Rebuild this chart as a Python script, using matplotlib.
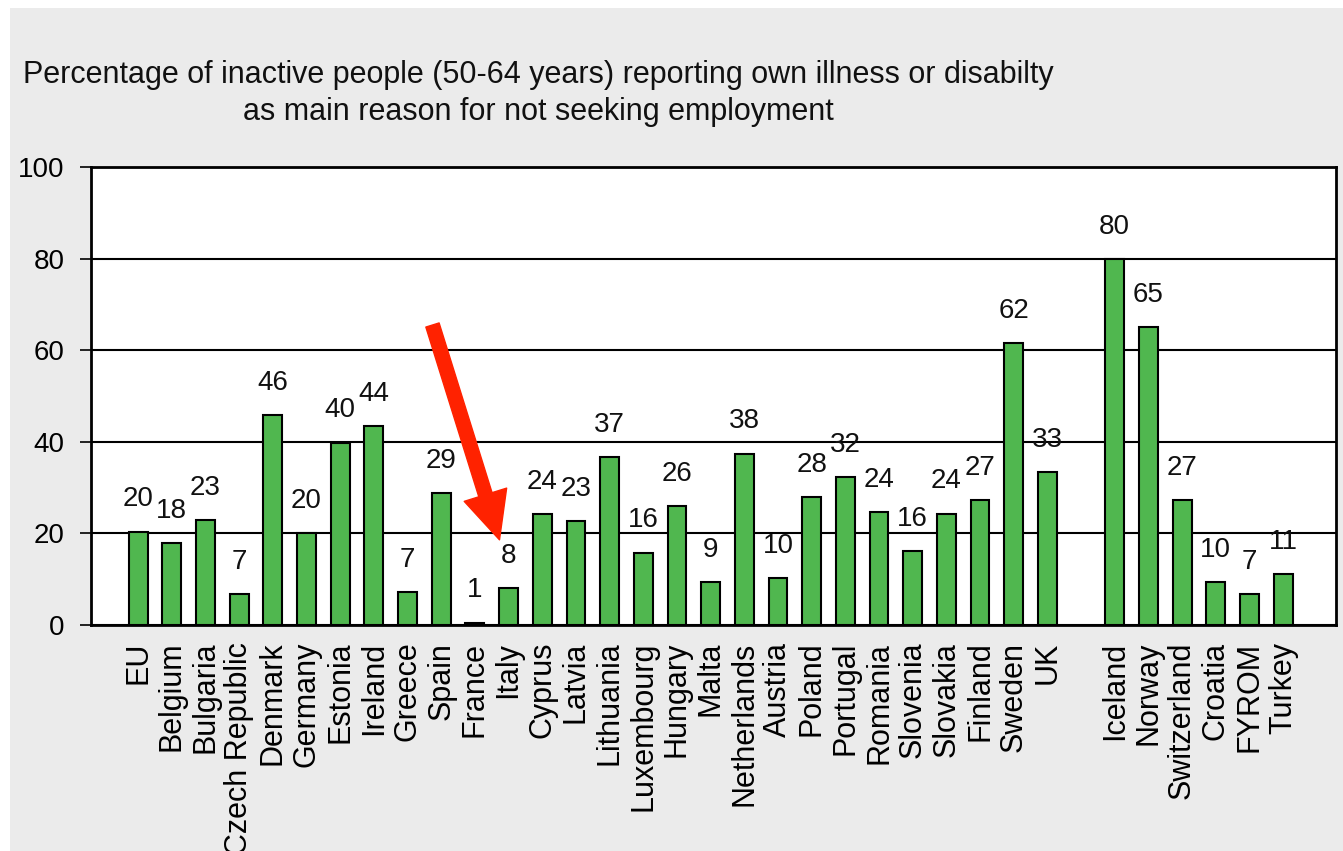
import numpy as np
import matplotlib
matplotlib.use("Agg")
from matplotlib import pyplot as plt
from matplotlib.patches import Rectangle

plt.rcParams["font.family"] = ["Liberation Sans", "DejaVu Sans"]

countries = ["EU", "Belgium", "Bulgaria", "Czech Republic", "Denmark", "Germany",
			 "Estonia", "Ireland", "Greece", "Spain", "France", "Italy", "Cyprus",
			 "Latvia", "Lithuania", "Luxembourg", "Hungary", "Malta", "Netherlands",
			 "Austria", "Poland", "Portugal", "Romania", "Slovenia", "Slovakia",
			 "Finland", "Sweden", "UK"]
others = ["Iceland", "Norway", "Switzerland", "Croatia", "FYROM", "Turkey"]

# bar heights as drawn, and the rounded numbers printed above them
values = [20.4, 17.9, 22.9, 6.8, 45.8, 20.0, 39.8, 43.5, 7.2, 28.8, 0.5, 8.1,
		  24.2, 22.6, 36.6, 15.8, 25.9, 9.3, 37.4, 10.2, 28.0, 32.3, 24.6, 16.2,
		  24.3, 27.2, 61.6, 33.4]
other_values = [79.9, 65.1, 27.3, 9.4, 6.8, 11.1]

value_labels = ["20", "18", "23", "7", "46", "20", "40", "44", "7", "29", "1", "8",
				"24", "23", "37", "16", "26", "9", "38", "10", "28", "32", "24", "16",
				"24", "27", "62", "33"]
other_labels = ["80", "65", "27", "10", "7", "11"]

yticks = [0, 20, 40, 60, 80, 100]

title1 = "Percentage of inactive people (50-64 years) reporting own illness or disabilty"
title2 = "as main reason for not seeking employment"

labels = countries + others
heights = values + other_values
texts = value_labels + other_labels
x = np.concatenate([np.arange(len(countries)), np.arange(len(others)) + len(countries) + 1])

fig = plt.figure(figsize=(13.43, 8.51), dpi=100)
fig.patch.set_facecolor("white")
fig.patches.append(Rectangle((10 / 1343, 0), 1, 1 - 8 / 851, transform=fig.transFigure,
							 facecolor="#ebebeb", edgecolor="none", zorder=-10))

ax = fig.add_axes([91 / 1343, 1 - 625 / 851, (1336 - 91) / 1343, (625 - 167) / 851])
ax.set_facecolor("white")

ax.bar(x, heights, width=0.56, color="#50b74f", edgecolor="black", linewidth=1.5, zorder=3)

for xi, h, t in zip(x, heights, texts):
	ax.text(xi, h + 4.2, t, ha="center", va="bottom", fontsize=20, color="#111111")

ax.set_xlim(-1.4, x[-1] + 1.57)
ax.set_ylim(0, 100)
ax.set_yticks(yticks)
ax.set_yticklabels([str(t) for t in yticks], fontsize=20)
ax.yaxis.grid(True, color="black", linewidth=1.5, zorder=1)
ax.set_xticks(x)
ax.set_xticklabels(labels, rotation=90, fontsize=22, va="top")
ax.tick_params(axis="x", length=0, pad=12)
ax.tick_params(axis="y", length=8, width=1.2, pad=11, direction="out")
for sp in ax.spines.values():
	sp.set_linewidth(2)
	sp.set_color("black")

fig.text(538 / 1343, 1 - 83 / 851, title1, ha="center", va="baseline", fontsize=22, color="#111111")
fig.text(538 / 1343, 1 - 120 / 851, title2, ha="center", va="baseline", fontsize=22, color="#111111")

# red arrow pointing at Italy
ax.annotate("", xy=(10.73, 18.6), xytext=(8.74, 65.5),
			arrowprops=dict(arrowstyle="simple,head_length=3.4,head_width=3.2,tail_width=1.0",
							mutation_scale=10, color="#ff2200", shrinkA=0, shrinkB=0),
			zorder=5)

plt.savefig("out.png", dpi=100, facecolor=fig.get_facecolor())
